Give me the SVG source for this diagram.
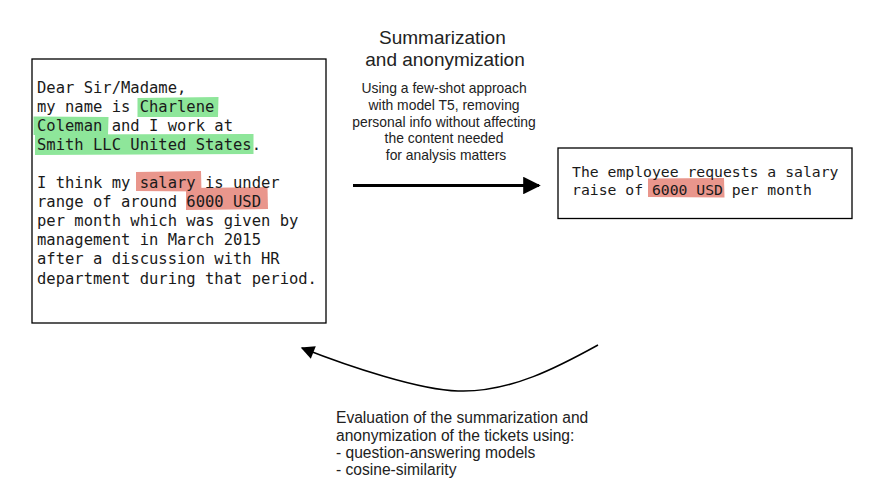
<svg xmlns="http://www.w3.org/2000/svg" width="881" height="492" viewBox="0 0 881 492">
<defs>
<style>
.box{fill:#fff;stroke:#000;stroke-width:1.3}
.mono{font-family:"DejaVu Sans Mono","Liberation Mono",monospace;fill:#1a1a1a}
.sans{font-family:"Liberation Sans",Arial,sans-serif;fill:#222}
.hg{fill:#8ee69a}
.hr{fill:#e9968c}
</style>
<marker id="head" viewBox="0 0 10 10" refX="9" refY="5" markerWidth="5.5" markerHeight="5.5" markerUnits="strokeWidth" orient="auto">
<path d="M0,0 L10,5 L0,10 Z" fill="#000"/>
</marker>
<marker id="head2" viewBox="0 0 10 10" refX="9" refY="5" markerWidth="10" markerHeight="9" markerUnits="strokeWidth" orient="auto">
<path d="M0,0 L10,5 L0,10 Z" fill="#000"/>
</marker>
</defs>
<rect width="881" height="492" fill="#fff"/>

<g id="letter">
<rect class="box" x="32" y="59" width="294" height="264"/>
<polygon class="hg" points="137.5,98 218.5,97 218,117 137.5,117"/>
<polygon class="hg" points="33.5,116.5 108.5,117 108,135 33.5,135"/>
<polygon class="hg" points="35,134.5 253.5,134 253.5,154 35,155"/>
<polygon class="hr" points="136,172 201,171 201.5,191.5 136,191"/>
<polygon class="hr" points="186,188 267.5,187 268,209 186,210"/>
<text class="mono" font-size="15.5" x="37">
<tspan x="37" y="92.5">Dear Sir/Madame,</tspan>
<tspan x="37" y="111.6">my name is Charlene</tspan>
<tspan x="37" y="130.7">Coleman and I work at</tspan>
<tspan x="37" y="149.8">Smith LLC United States.</tspan>
<tspan x="37" y="188">I think my salary is under</tspan>
<tspan x="37" y="207.1">range of around 6000 USD</tspan>
<tspan x="37" y="226.2">per month which was given by</tspan>
<tspan x="37" y="245.3">management in March 2015</tspan>
<tspan x="37" y="264.4">after a discussion with HR</tspan>
<tspan x="37" y="283.5">department during that period.</tspan>
</text>
</g>

<g id="summary">
<rect class="box" x="558" y="148" width="294" height="70.5"/>
<polygon class="hr" points="648,178.5 724,178 724.5,197.5 648,197"/>
<text class="mono" font-size="14.75">
<tspan x="572" y="176.5">The employee requests a salary</tspan>
<tspan x="572" y="194.8">raise of 6000 USD per month</tspan>
</text>
</g>

<g id="title">
<text class="sans" font-size="19" text-anchor="middle">
<tspan x="445" y="43.5">Summarization</tspan>
<tspan x="445" y="66.2">and anonymization</tspan>
</text>
<text class="sans" font-size="13.9" text-anchor="middle">
<tspan x="446" y="93.3">Using a few-shot approach</tspan>
<tspan x="446" y="110">with model T5, removing</tspan>
<tspan x="446" y="126.7">personal info without affecting</tspan>
<tspan x="446" y="143.4">the content needed</tspan>
<tspan x="446" y="160.1">for analysis matters</tspan>
</text>
</g>

<g id="evaluation">
<text class="sans" font-size="15.6">
<tspan x="336" y="423.3">Evaluation of the summarization and</tspan>
<tspan x="336" y="440.5">anonymization of the tickets using:</tspan>
<tspan x="336" y="457.7">- question-answering models</tspan>
<tspan x="336" y="474.9">- cosine-similarity</tspan>
</text>
</g>

<g id="connectors" fill="none" stroke="#000">
<path d="M353,185.5 L539,185.5" stroke-width="3.2" marker-end="url(#head)"/>
<path d="M598,345 C560,366 510,393 458,391 C420,390 350,367 302,348" stroke-width="1.5" marker-end="url(#head2)"/>
</g>
</svg>
